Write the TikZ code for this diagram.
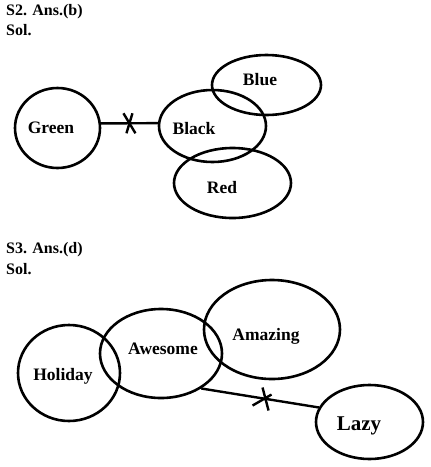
\documentclass[tikz,border=0pt]{standalone}
\usepackage{fontspec}
\setmainfont{Liberation Serif}
\usetikzlibrary{shapes.geometric,calc}

\begin{document}
\begin{tikzpicture}[x=1pt,y=-1pt,
    set/.style={draw,ellipse,line width=2.6pt,inner sep=0pt},
    word/.style={font=\bfseries\fontsize{17.5}{20}\selectfont},
    head/.style={anchor=west,inner sep=0pt,font=\bfseries\fontsize{16}{18}\selectfont},
    cut/.style={line width=2.4pt}]
  \useasboundingbox (0,0) rectangle (431,467);
  % S2
  \node[head] (s2)  at (6,12) {S2. Ans.(b)};
  \node[head] (sol2) at (6,30) {Sol.};
  \node[set,minimum width=85pt,minimum height=80pt]  (green) at (57.5,128) {};
  \node[set,minimum width=107pt,minimum height=72pt] (black) at (212.5,126) {};
  \node[set,minimum width=109pt,minimum height=60pt] (blue)  at (266.5,85) {};
  \node[set,minimum width=117pt,minimum height=70pt] (red)   at (232.5,183) {};
  \node[word] (tgreen) at (51,128) {Green};
  \node[word] (tblack) at (194,129) {Black};
  \node[word] (tblue)  at (260,80) {Blue};
  \node[word] (tred)   at (222,188) {Red};
  \draw[line width=2.4pt] (green.6) -- coordinate[pos=0.5] (cut1) (black.177);
  \draw[cut] ($(cut1)+(-6,-10)$) -- ($(cut1)+(6,10)$)
             ($(cut1)+(3,-10)$) -- ($(cut1)+(-3,10)$);
  % S3
  \node[head] (s3)  at (6,250) {S3. Ans.(d)};
  \node[head] (sol3) at (6,269) {Sol.};
  \node[set,minimum width=102pt,minimum height=96pt]  (holiday) at (69,373) {};
  \node[set,minimum width=122pt,minimum height=89pt]  (awesome) at (161,353.5) {};
  \node[set,minimum width=136pt,minimum height=99pt]  (amazing) at (272,329.5) {};
  \node[set,minimum width=107pt,minimum height=74pt]  (lazy)    at (369.5,422) {};
  \node[word] (tholiday) at (63,376) {Holiday};
  \node[word] (tawesome) at (163,349) {Awesome};
  \node[word] (tamazing) at (266,336) {Amazing};
  \node[word,font=\bfseries\fontsize{21}{24}\selectfont] (tlazy) at (359,426) {Lazy};
  \draw[line width=2.4pt] (awesome.-41) -- coordinate[pos=0.53] (cut2) (lazy.164);
  \draw[cut] ($(cut2)+(-1,-11)$) -- ($(cut2)+(5,12)$)
             ($(cut2)+(-11,7)$) -- ($(cut2)+(8,-4)$);
\end{tikzpicture}
\end{document}
